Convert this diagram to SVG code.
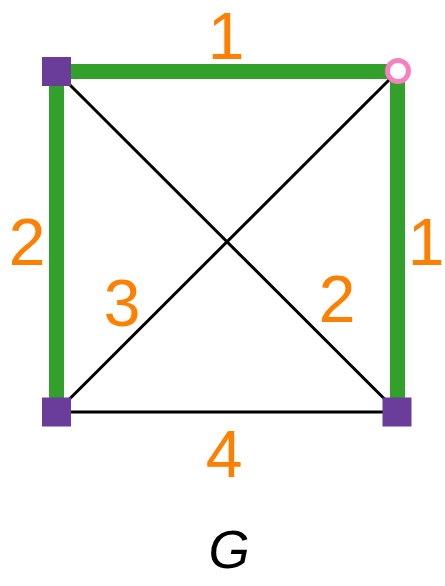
<svg xmlns="http://www.w3.org/2000/svg" width="445" height="586" viewBox="0 0 445 586">
<style>
.g{stroke:#33a02c;stroke-width:15;fill:none}
.k{stroke:#000;stroke-width:3;fill:none}
.sq{fill:#6a3d9a}
.lb{font-family:"Liberation Sans",Arial,sans-serif;font-size:66px;fill:#ff7f00;text-anchor:middle}
</style>
<rect width="445" height="586" fill="#fff"/>
<g id="edges">
<line class="g" x1="56.5" y1="71.5" x2="397.5" y2="71.5"/>
<line class="g" x1="56.5" y1="71.5" x2="56.5" y2="412"/>
<line class="g" x1="397.5" y1="71.5" x2="397.5" y2="412"/>
<line class="k" x1="56.5" y1="71.5" x2="397.5" y2="412"/>
<line class="k" x1="397.5" y1="71.5" x2="56.5" y2="412"/>
<line class="k" x1="56.5" y1="412" x2="397.5" y2="412"/>
</g>
<g id="labels">
<text class="lb" x="226" y="59">1</text>
<text class="lb" x="27" y="265">2</text>
<text class="lb" x="426" y="265">1</text>
<text class="lb" x="122" y="326">3</text>
<text class="lb" x="337" y="322">2</text>
<text class="lb" x="224" y="477">4</text>
</g>
<g id="n1"><rect class="sq" x="42" y="57" width="29" height="29"/></g>
<g id="n2"><circle cx="398" cy="71" r="10.5" fill="#fff" stroke="#f781bf" stroke-width="5"/></g>
<g id="n3"><rect class="sq" x="42" y="397.5" width="29" height="29"/></g>
<g id="n4"><rect class="sq" x="382.5" y="397.5" width="29" height="29"/></g>
<text x="229" y="568" font-family="Liberation Sans,Arial,sans-serif" font-style="italic" font-size="53" text-anchor="middle" fill="#000">G</text>
</svg>
